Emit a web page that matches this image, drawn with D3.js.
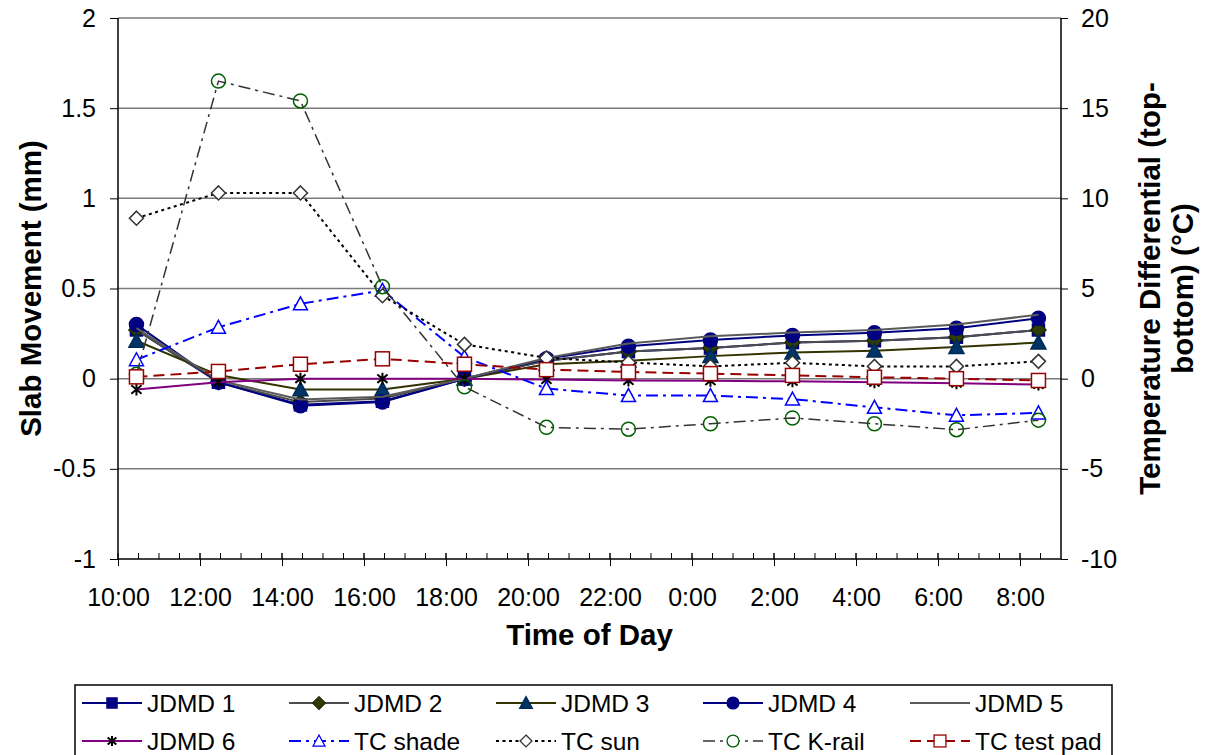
<!DOCTYPE html>
<html><head><meta charset="utf-8">
<script src="https://cdn.jsdelivr.net/npm/d3@7"></script>
<style>
body{margin:0;background:#fff}
text{font-family:"Liberation Sans",Arial,sans-serif;fill:#000}
</style>
</head><body>
<svg id="c" width="1206" height="755"></svg>
<script>
// ---------- data ----------
const times = ["10:27","12:27","14:27","16:27","18:27","20:27","22:27","0:27","2:27","4:27","6:27","8:27"];
const xTickLabels = ["10:00","12:00","14:00","16:00","18:00","20:00","22:00","0:00","2:00","4:00","6:00","8:00"];
const leftTicks = [-1,-0.5,0,0.5,1,1.5,2];
const rightTicks = [-10,-5,0,5,10,15,20];

const seriesNames = ["JDMD 1","JDMD 2","JDMD 3","JDMD 4","JDMD 5","JDMD 6","TC shade","TC sun","TC K-rail","TC test pad"];
// slab movement (mm), left axis
const jdmd1 = [0.27,-0.02,-0.145,-0.125,0,0.10,0.15,0.17,0.20,0.21,0.23,0.27];
const jdmd2 = [0.27,-0.02,-0.13,-0.11,0,0.10,0.15,0.17,0.20,0.21,0.23,0.27];
const jdmd3 = [0.21,0.02,-0.06,-0.06,0,0.08,0.10,0.125,0.145,0.155,0.175,0.20];
const jdmd4 = [0.30,-0.02,-0.15,-0.13,0,0.11,0.18,0.215,0.24,0.255,0.28,0.335];
const jdmd5 = [0.28,-0.01,-0.115,-0.10,0,0.115,0.195,0.235,0.256,0.27,0.30,0.355];
const jdmd6 = [-0.06,-0.02,0,0,0,-0.005,-0.01,-0.012,-0.015,-0.02,-0.025,-0.033];
// temperature differential (°C), right axis
const tcShade = [1.05,2.85,4.15,4.9,1.2,-0.55,-0.94,-0.94,-1.13,-1.59,-2.03,-1.9];
const tcSun = [8.9,10.3,10.3,4.6,1.9,1.15,0.9,0.68,0.88,0.68,0.68,0.96];
const tcKrail = [0.25,16.5,15.4,5.1,-0.45,-2.7,-2.8,-2.5,-2.18,-2.5,-2.83,-2.3];
const tcTestPad = [0.1,0.4,0.8,1.1,0.8,0.5,0.37,0.28,0.18,0.08,0.0,-0.1];

const seriesValues = [jdmd1,jdmd2,jdmd3,jdmd4,jdmd5,jdmd6,tcShade,tcSun,tcKrail,tcTestPad];

// ---------- styles ----------
const styles = [
  {axis:"L", line:"#000080", w:2, dash:null, marker:"square", fill:"#000080", stroke:"#000080", size:12},
  {axis:"L", line:"#4d4d4d", w:2, dash:null, marker:"diamond", fill:"#2f3d05", stroke:"#1f2a00", size:15},
  {axis:"L", line:"#333300", w:2, dash:null, marker:"triangle", fill:"#003366", stroke:"#002a55", size:15},
  {axis:"L", line:"#000080", w:2, dash:null, marker:"circle", fill:"#000080", stroke:"#000080", size:14},
  {axis:"L", line:"#5a5a5a", w:2, dash:null, marker:"none"},
  {axis:"L", line:"#800080", w:2, dash:null, marker:"asterisk", fill:"none", stroke:"#000", size:12},
  {axis:"R", line:"#0000ff", w:2, dash:"12,5,3,5", marker:"triangle", fill:"#fff", stroke:"#0000ff", size:14},
  {axis:"R", line:"#000", w:2, dash:"3,3.5", marker:"diamond", fill:"#fff", stroke:"#333", size:14},
  {axis:"R", line:"#333", w:1.5, dash:"12,5,3,5", marker:"circle", fill:"none", stroke:"#006000", size:14},
  {axis:"R", line:"#990000", w:2, dash:"11,6", marker:"square", fill:"#fff", stroke:"#990000", size:14}
];

// ---------- layout ----------
const svg = d3.select("#c");
const L = 118, R = 1061, T = 18, B = 559;

function hoursOf(s){ const [h,m] = s.split(":").map(Number); let v = h + m/60; if (v < 10) v += 24; return v; }
const xs = times.map(hoursOf);

const x = d3.scaleLinear().domain([10,33]).range([L,R]);
const yL = d3.scaleLinear().domain([-1,2]).range([B,T]);
const yR = d3.scaleLinear().domain([-10,20]).range([B,T]);

// gridlines
svg.append("g").selectAll("line").data(leftTicks.filter(d=>d>-1)).join("line")
  .attr("x1",L).attr("x2",R).attr("y1",d=>yL(d)).attr("y2",d=>yL(d))
  .attr("stroke","#7a7a7a").attr("stroke-width",1.5);

// axes
const fmt = d => String(d);
const gl = svg.append("g").attr("transform",`translate(${L},0)`)
  .call(d3.axisLeft(yL).tickValues(leftTicks).tickFormat(fmt).tickSize(8).tickPadding(14));
const gr = svg.append("g").attr("transform",`translate(${R},0)`)
  .call(d3.axisRight(yR).tickValues(rightTicks).tickFormat(fmt).tickSize(7).tickPadding(13));
const majorH = xTickLabels.map((_,i)=>10+2*i);
const gx = svg.append("g").attr("transform",`translate(0,${B})`)
  .call(d3.axisBottom(x).tickValues(majorH).tickFormat((d,i)=>xTickLabels[i]).tickSize(7).tickPadding(22));
// minor ticks (inside) every 30 min
const minorH = d3.range(10.5,33,0.5);
svg.append("g").selectAll("line").data(minorH).join("line")
  .attr("x1",d=>x(d)).attr("x2",d=>x(d)).attr("y1",B).attr("y2",B-6)
  .attr("stroke","#000").attr("stroke-width",1);
svg.append("g").selectAll("line").data(majorH).join("line")
  .attr("x1",d=>x(d)).attr("x2",d=>x(d)).attr("y1",B).attr("y2",B-6)
  .attr("stroke","#000").attr("stroke-width",1);

[gl,gr,gx].forEach(g=>{
  g.selectAll("path.domain").attr("stroke","#000").attr("stroke-width",1.5);
  g.selectAll(".tick line").attr("stroke","#000").attr("stroke-width",1);
  g.selectAll("text").attr("font-size","25px").attr("font-family","Liberation Sans, Arial, sans-serif").attr("fill","#000");
});
gl.select("path.domain").attr("d",`M0,${B}V${T}`);
gr.select("path.domain").attr("d",`M0,${B}V${T}`);
gx.select("path.domain").attr("d",`M${L},0H${R}`);

// titles
svg.append("text").attr("x",(L+R)/2).attr("y",645).attr("text-anchor","middle")
  .attr("font-size","29.5px").attr("font-weight","bold").text("Time of Day");
svg.append("text").attr("transform",`translate(41,${(T+B)/2}) rotate(-90)`).attr("text-anchor","middle")
  .attr("font-size","29.5px").attr("font-weight","bold").text("Slab Movement (mm)");
const rt = svg.append("text").attr("transform",`translate(1160,${(T+B)/2}) rotate(-90)`).attr("text-anchor","middle")
  .attr("font-size","29.5px").attr("font-weight","bold");
rt.append("tspan").attr("x",0).attr("y",0).text("Temperature Differential (top-");
rt.append("tspan").attr("x",0).attr("y",33).text("bottom) (°C)");

// markers
function marker(g, type, cx, cy, s, fill, stroke, sw){
  sw = sw || 1.5;
  const h = s/2;
  if (type==="square") g.append("rect").attr("x",cx-h).attr("y",cy-h).attr("width",s).attr("height",s)
      .attr("fill",fill).attr("stroke",stroke).attr("stroke-width",sw);
  else if (type==="diamond") g.append("path").attr("d",`M${cx},${cy-h}L${cx+h},${cy}L${cx},${cy+h}L${cx-h},${cy}Z`)
      .attr("fill",fill).attr("stroke",stroke).attr("stroke-width",sw);
  else if (type==="triangle") g.append("path").attr("d",`M${cx},${cy-h}L${cx+h},${cy+h*0.85}L${cx-h},${cy+h*0.85}Z`)
      .attr("fill",fill).attr("stroke",stroke).attr("stroke-width",sw);
  else if (type==="circle") g.append("circle").attr("cx",cx).attr("cy",cy).attr("r",h)
      .attr("fill",fill).attr("stroke",stroke).attr("stroke-width",sw);
  else if (type==="asterisk") g.append("path")
      .attr("d",`M${cx},${cy-h}V${cy+h}M${cx-h*0.85},${cy-h*0.7}L${cx+h*0.85},${cy+h*0.7}M${cx-h*0.85},${cy+h*0.7}L${cx+h*0.85},${cy-h*0.7}`)
      .attr("fill","none").attr("stroke",stroke).attr("stroke-width",2);
}

// series
seriesValues.forEach((vals,i)=>{
  const st = styles[i];
  const ys = st.axis==="L" ? yL : yR;
  const g = svg.append("g");
  const line = d3.line().x((d,j)=>x(xs[j])).y(d=>ys(d));
  g.append("path").datum(vals).attr("d",line).attr("fill","none")
    .attr("stroke",st.line).attr("stroke-width",st.w)
    .attr("stroke-dasharray",st.dash).attr("stroke-linejoin","round");
  if (st.marker!=="none") vals.forEach((v,j)=>marker(g, st.marker, x(xs[j]), ys(v), st.size, st.fill, st.stroke));
});

// legend
const lg = svg.append("g");
lg.append("rect").attr("x",75).attr("y",685).attr("width",1037).attr("height",90)
  .attr("fill","#fff").attr("stroke","#000").attr("stroke-width",1.5);
seriesNames.forEach((name,i)=>{
  const st = styles[i];
  const col = i%5, row = Math.floor(i/5);
  const x0 = 82 + col*207, yy = row===0 ? 703 : 741;
  lg.append("line").attr("x1",x0).attr("x2",x0+60).attr("y1",yy).attr("y2",yy)
    .attr("stroke",st.line).attr("stroke-width",st.w).attr("stroke-dasharray",st.dash);
  if (st.marker!=="none") marker(lg, st.marker, x0+30, yy, st.size*0.85, st.fill==="none"?"#fff":st.fill, st.stroke, 1.3);
  lg.append("text").attr("x",x0+65).attr("y",yy).attr("dy","0.35em")
    .attr("font-size","24.5px").text(name);
});
</script>
</body></html>
